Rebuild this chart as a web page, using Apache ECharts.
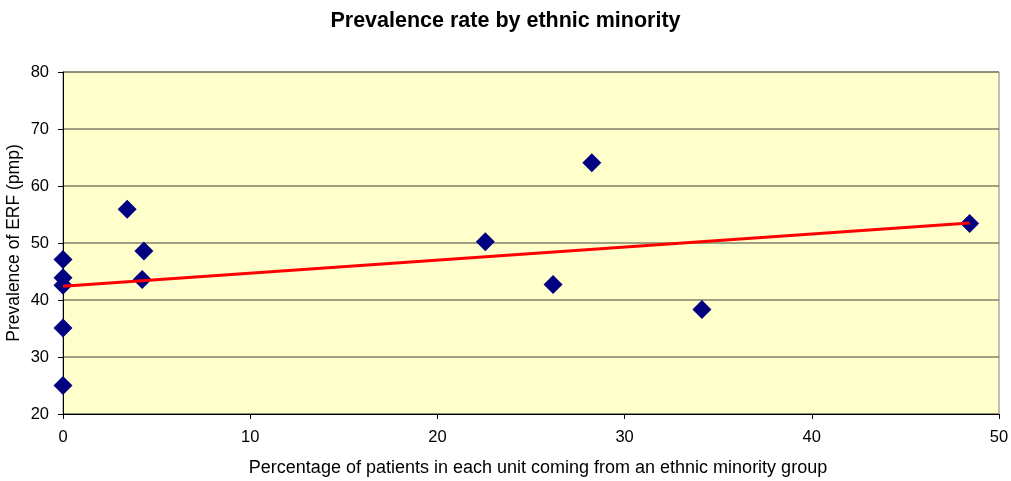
<!DOCTYPE html>
<html><head><meta charset="utf-8">
<script src="https://cdn.jsdelivr.net/npm/echarts@6/dist/echarts.min.js"></script>
<style>html,body{margin:0;padding:0;background:#fff}#c{width:1011px;height:481px}</style>
</head><body><div id="c"></div>
<script>
const titleText = 'Prevalence rate by ethnic minority';
const xName = 'Percentage of patients in each unit coming from an ethnic minority group';
const yName = 'Prevalence of ERF (pmp)';
const pctMinority = [0, 0, 0, 0, 0, 3.43, 4.32, 4.23, 22.56, 28.25, 26.18, 34.13, 48.43];
const prevalence = [47.1, 43.9, 42.6, 35.1, 25.0, 55.9, 48.6, 43.6, 50.2, 64.1, 42.7, 38.35, 53.4];
const trendX = [0, 48.43];
const trendY = [42.4, 53.5];

const pts = pctMinority.map((x, i) => [x, prevalence[i]]);
const trend = trendX.map((x, i) => [x, trendY[i]]);
const font = 'Arial, "Liberation Sans", sans-serif';
const chart = echarts.init(document.getElementById('c'));
chart.setOption({
  animation: false,
  title: { text: titleText, left: 'center', top: 5,
    textStyle: { fontFamily: font, fontSize: 21.5, fontWeight: 'bold', color: '#000' } },
  grid: { left: 63, right: 12, top: 72, bottom: 67, show: true, containLabel: false,
    outerBoundsMode: 'none',
    backgroundColor: '#FFFFCC', borderColor: '#808080', borderWidth: 1 },
  xAxis: { type: 'value', min: 0, max: 50, interval: 10,
    name: xName, nameLocation: 'middle', nameGap: 45, nameMoveOverlap: false,
    nameTextStyle: { fontFamily: font, fontSize: 18, color: '#000', padding: [0, 0, 0, 14] },
    axisLine: { show: true, onZero: false, lineStyle: { color: '#000', width: 1 } },
    axisTick: { show: true, inside: false, length: 5, lineStyle: { color: '#000' } },
    axisLabel: { fontFamily: font, fontSize: 16.5, color: '#000', margin: 15 },
    splitLine: { show: false } },
  yAxis: { type: 'value', min: 20, max: 80, interval: 10,
    name: yName, nameLocation: 'middle', nameGap: 40, nameMoveOverlap: false,
    nameTextStyle: { fontFamily: font, fontSize: 17.5, color: '#000' },
    axisLine: { show: true, onZero: false, lineStyle: { color: '#000', width: 1 } },
    axisTick: { show: true, inside: false, length: 5, lineStyle: { color: '#000' } },
    axisLabel: { fontFamily: font, fontSize: 16.5, color: '#000', margin: 14 },
    splitLine: { show: true, lineStyle: { color: '#7f7f6a', width: 1.5 } } },
  series: [
    { type: 'scatter', data: pts, symbol: 'diamond', symbolSize: 19,
      itemStyle: { color: '#000080', opacity: 1 }, z: 2 },
    { type: 'line', data: trend, symbol: 'none', lineStyle: { color: '#FF0000', width: 3 }, z: 3 }
  ]
});
</script></body></html>
